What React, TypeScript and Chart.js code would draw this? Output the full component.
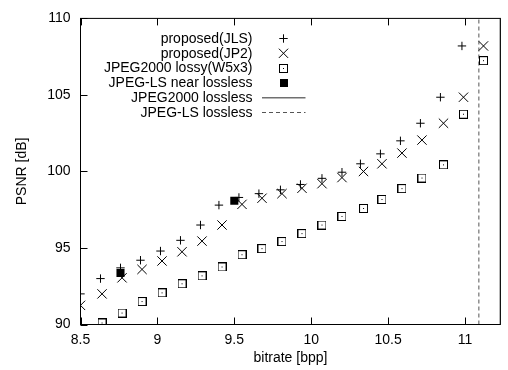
import React, { useEffect, useRef } from "react";
import { Chart, registerables } from "chart.js";

Chart.register(...registerables);

// ---- data ----
const jlsBitrate = [8.5, 8.63, 8.76, 8.89, 9.02, 9.15, 9.28, 9.4, 9.53, 9.66, 9.8, 9.93, 10.07, 10.2, 10.32, 10.45, 10.58, 10.71, 10.84, 10.98];
const jlsPsnr = [92.0, 93.0, 93.7, 94.2, 94.8, 95.5, 96.5, 97.8, 98.3, 98.55, 98.8, 99.15, 99.55, 99.95, 100.5, 101.15, 102.0, 103.15, 104.85, 108.2];

const jp2Bitrate = [8.5, 8.64, 8.77, 8.9, 9.03, 9.16, 9.29, 9.42, 9.55, 9.68, 9.81, 9.94, 10.07, 10.2, 10.34, 10.46, 10.59, 10.72, 10.86, 10.99, 11.12];
const jp2Psnr = [91.25, 92.0, 93.05, 93.6, 94.15, 94.75, 95.45, 96.5, 97.85, 98.25, 98.55, 98.9, 99.2, 99.6, 100.0, 100.5, 101.2, 102.05, 103.15, 104.85, 108.2];

const j2kLossyBitrate = [8.64, 8.77, 8.9, 9.03, 9.16, 9.29, 9.42, 9.55, 9.68, 9.81, 9.94, 10.07, 10.2, 10.34, 10.46, 10.59, 10.72, 10.86, 10.99, 11.12];
const j2kLossyPsnr = [90.1, 90.75, 91.5, 92.07, 92.66, 93.18, 93.76, 94.56, 94.96, 95.42, 95.94, 96.5, 97.06, 97.58, 98.17, 98.88, 99.57, 100.43, 103.74, 107.24];

const jlsNearBitrate = [8.76, 9.5];
const jlsNearPsnr = [93.37, 98.08];

const j2kLosslessBitrate = 11.23;
const jlsLosslessBitrate = 11.09;

const seriesLabels = [
  "proposed(JLS)",
  "proposed(JP2)",
  "JPEG2000 lossy(W5x3)",
  "JPEG-LS near lossless",
  "JPEG2000 lossless",
  "JPEG-LS lossless",
];

const xTicks = [8.5, 9, 9.5, 10, 10.5, 11];
const yTicks = [90, 95, 100, 105, 110];
const xMin = 8.5;
const xMax = 11.23;
const yMin = 90;
const yMax = 110;

const FONT_FAMILY = '"Liberation Sans", Arial, Helvetica, sans-serif';

function zip(xs: number[], ys: number[]) {
  return xs.map((x, i) => ({ x, y: ys[i] }));
}

function makeDotSquare(): HTMLCanvasElement {
  const c = document.createElement("canvas");
  c.width = 9;
  c.height = 9;
  const g = c.getContext("2d")!;
  g.strokeStyle = "#000";
  g.lineWidth = 1;
  g.strokeRect(0.5, 0.5, 8, 8);
  g.fillStyle = "#000";
  g.fillRect(4, 4, 1, 1);
  return c;
}

const framePlugin = {
  id: "gnuplotFrame",
  afterDraw(chart: any, _args: any, opts: any) {
    const { ctx, chartArea, scales } = chart;
    const { left, right, top, bottom } = chartArea;
    ctx.save();
    ctx.strokeStyle = "#000";
    ctx.lineWidth = 1;
    ctx.setLineDash([]);
    ctx.strokeRect(left, top, right - left, bottom - top);
    const tl = 7;
    ctx.beginPath();
    for (const v of xTicks) {
      const px = Math.round(scales.x.getPixelForValue(v)) + 0.5;
      ctx.moveTo(px, bottom);
      ctx.lineTo(px, bottom - tl);
      ctx.moveTo(px, top);
      ctx.lineTo(px, top + tl);
    }
    for (const v of yTicks) {
      const py = Math.round(scales.y.getPixelForValue(v)) + 0.5;
      ctx.moveTo(left, py);
      ctx.lineTo(left + tl, py);
    }
    ctx.stroke();

    // gnuplot-style legend: right-aligned text, sample on the right
    const textRight = 252.5;
    const sampleX = 283.5;
    const lineX0 = 262;
    const lineX1 = 305.5;
    const rowY0 = 38.5;
    const rowStep = 14.8;
    ctx.font = "14px " + FONT_FAMILY;
    ctx.fillStyle = "#000";
    ctx.textAlign = "right";
    ctx.textBaseline = "middle";
    const dotSquare = opts.dotSquare as HTMLCanvasElement;
    chart.data.datasets.forEach((ds: any, i: number) => {
      const y = rowY0 + i * rowStep;
      ctx.fillText(ds.label, textRight, y + 0.5);
      ctx.save();
      ctx.strokeStyle = "#000";
      ctx.fillStyle = "#000";
      ctx.lineWidth = 1;
      if (i === 0) {
        const r = 4.2;
        ctx.beginPath();
        ctx.moveTo(sampleX - r, y);
        ctx.lineTo(sampleX + r, y);
        ctx.moveTo(sampleX, y - r);
        ctx.lineTo(sampleX, y + r);
        ctx.stroke();
      } else if (i === 1) {
        const r = 4.6;
        ctx.beginPath();
        ctx.moveTo(sampleX - r, y - r);
        ctx.lineTo(sampleX + r, y + r);
        ctx.moveTo(sampleX - r, y + r);
        ctx.lineTo(sampleX + r, y - r);
        ctx.stroke();
      } else if (i === 2) {
        ctx.drawImage(dotSquare, Math.round(sampleX - 4.5), Math.round(y - 4.5));
      } else if (i === 3) {
        ctx.fillRect(Math.round(sampleX - 4), Math.round(y - 4), 8, 8);
      } else {
        ctx.strokeStyle = ds.borderColor;
        ctx.lineWidth = ds.borderWidth;
        ctx.setLineDash(ds.borderDash || []);
        ctx.beginPath();
        ctx.moveTo(lineX0, y);
        ctx.lineTo(lineX1, y);
        ctx.stroke();
      }
      ctx.restore();
    });
    ctx.restore();
  },
};

export default function App() {
  const canvasRef = useRef<HTMLCanvasElement | null>(null);

  useEffect(() => {
    const canvas = canvasRef.current;
    if (!canvas) return;
    const dotSquare = makeDotSquare();
    const font = { family: FONT_FAMILY, size: 14 };

    const chart = new Chart(canvas, {
      type: "scatter",
      data: {
        datasets: [
          {
            label: seriesLabels[0],
            data: zip(jlsBitrate, jlsPsnr),
            pointStyle: "cross",
            pointRadius: 4.2,
            borderColor: "#000",
            backgroundColor: "#000",
            borderWidth: 1,
            showLine: false,
          },
          {
            label: seriesLabels[1],
            data: zip(jp2Bitrate, jp2Psnr),
            pointStyle: "crossRot",
            pointRadius: 6.6,
            borderColor: "#000",
            backgroundColor: "#000",
            borderWidth: 1,
            showLine: false,
          },
          {
            label: seriesLabels[2],
            data: zip(j2kLossyBitrate, j2kLossyPsnr),
            pointStyle: dotSquare,
            pointRadius: 4.5,
            borderColor: "#000",
            backgroundColor: "#000",
            showLine: false,
          },
          {
            label: seriesLabels[3],
            data: zip(jlsNearBitrate, jlsNearPsnr),
            pointStyle: "rect",
            pointRadius: 5.7,
            borderColor: "#000",
            backgroundColor: "#000",
            borderWidth: 0,
            showLine: false,
          },
          {
            label: seriesLabels[4],
            data: [
              { x: j2kLosslessBitrate, y: yMin },
              { x: j2kLosslessBitrate, y: yMax },
            ],
            showLine: true,
            pointRadius: 0,
            borderColor: "#707070",
            borderWidth: 1.5,
          },
          {
            label: seriesLabels[5],
            data: [
              { x: jlsLosslessBitrate, y: yMin },
              { x: jlsLosslessBitrate, y: yMax },
            ],
            showLine: true,
            pointRadius: 0,
            borderColor: "#555",
            borderWidth: 1,
            borderDash: [4, 3],
          },
        ],
      } as any,
      options: {
        animation: false,
        responsive: false,
        events: [],
        layout: { padding: { top: 15.5, right: 2.5, left: 0, bottom: 0 } },
        plugins: {
          legend: { display: false },
          tooltip: { enabled: false },
          gnuplotFrame: { dotSquare },
        } as any,
        scales: {
          x: {
            type: "linear",
            min: xMin,
            max: xMax,
            afterBuildTicks: (s: any) => {
              s.ticks = xTicks.map((value) => ({ value }));
            },
            afterFit: (s: any) => {
              s.height = 45.5;
            },
            ticks: {
              font,
              color: "#000",
              padding: 7,
              maxRotation: 0,
              autoSkip: false,
              callback: (v: any) => String(v),
            },
            grid: { display: false, drawTicks: false },
            border: { display: false },
            title: {
              display: true,
              text: "bitrate [bpp]",
              font,
              color: "#000",
              padding: { top: 0, bottom: 3.6 },
            },
          },
          y: {
            type: "linear",
            min: yMin,
            max: yMax,
            afterBuildTicks: (s: any) => {
              s.ticks = yTicks.map((value) => ({ value }));
            },
            afterFit: (s: any) => {
              s.width = 80.5;
            },
            ticks: {
              font,
              color: "#000",
              padding: 10,
              autoSkip: false,
              callback: (v: any) => String(v),
            },
            grid: { display: false, drawTicks: false },
            border: { display: false },
            title: {
              display: true,
              text: "PSNR [dB]",
              font,
              color: "#000",
              padding: { top: 14, bottom: 0 },
            },
          },
        },
      } as any,
      plugins: [framePlugin as any],
    });

    return () => {
      chart.destroy();
    };
  }, []);

  return (
    <div style={{ position: "absolute", left: 0, top: 0, width: 508, height: 370, background: "#fff" }}>
      <canvas ref={canvasRef} width={508} height={370} style={{ display: "block" }} />
    </div>
  );
}
